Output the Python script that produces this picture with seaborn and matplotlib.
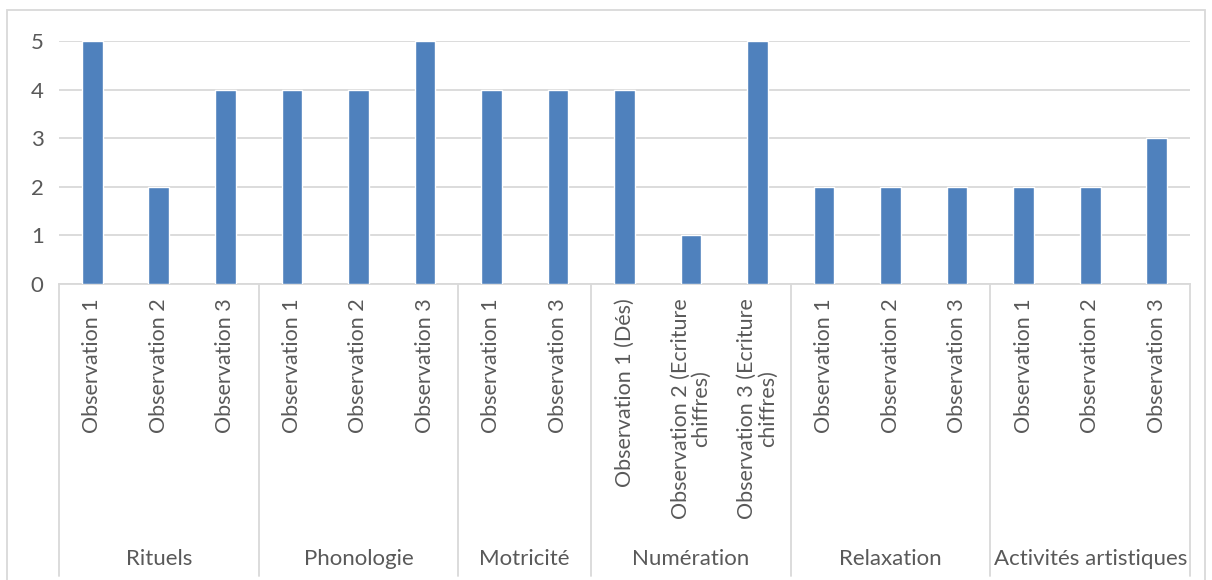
import matplotlib
matplotlib.use('Agg')
import matplotlib.pyplot as plt
import matplotlib.transforms as mtransforms
from matplotlib.patches import Rectangle
import pandas as pd
import seaborn as sns

# Données du graphique
groupes = ['Rituels', 'Phonologie', 'Motricité', 'Numération', 'Relaxation', 'Activités artistiques']
observations = [
    ['Observation 1', 'Observation 2', 'Observation 3'],
    ['Observation 1', 'Observation 2', 'Observation 3'],
    ['Observation 1', 'Observation 3'],
    ['Observation 1 (Dés)', 'Observation 2 (Ecriture\nchiffres)', 'Observation 3 (Ecriture\nchiffres)'],
    ['Observation 1', 'Observation 2', 'Observation 3'],
    ['Observation 1', 'Observation 2', 'Observation 3'],
]
valeurs = [
    [5, 2, 4],
    [4, 4, 5],
    [4, 4],
    [4, 1, 5],
    [2, 2, 2],
    [2, 2, 3],
]

rows = []
for g, obs, vals in zip(groupes, observations, valeurs):
    for o, v in zip(obs, vals):
        rows.append({'cle': g + ' | ' + o, 'groupe': g, 'obs': o, 'valeur': v})
df = pd.DataFrame(rows)

sns.set_style('white')
plt.rcParams['font.family'] = ['Lato', 'DejaVu Sans']

W, H = 1212, 580
fig = plt.figure(figsize=(W / 100, H / 100), dpi=100)
ax = fig.add_axes([59 / W, 1 - 284 / H, (1190 - 59) / W, (284 - 41) / H])

grid_col = '#d9d9d9'
text_col = '#595959'

sns.barplot(data=df, x='cle', y='valeur', color='#4f81bd', width=0.31,
            saturation=1, ax=ax, zorder=3)

ax.set_ylim(0, 5)
ax.set_xlim(-0.5, len(df) - 0.5)
ax.set_yticks(range(0, 6))
ax.yaxis.grid(True, color=grid_col, linewidth=1.3, zorder=0)
ax.set_axisbelow(True)
for s in ['top', 'right', 'left']:
    ax.spines[s].set_visible(False)
ax.spines['bottom'].set_color(grid_col)
ax.spines['bottom'].set_linewidth(1.3)
ax.set_xlabel('')
ax.set_ylabel('')

ax.set_xticks(range(len(df)))
ax.set_xticklabels(df['obs'], rotation=90, va='top', ha='center',
                   multialignment='center', fontsize=15.5, color=text_col,
                   linespacing=1.05)
ax.tick_params(axis='x', length=0, pad=10)
ax.tick_params(axis='y', length=0, pad=11, labelsize=16, labelcolor=text_col)

# Axe des catégories à deux niveaux
trans = mtransforms.blended_transform_factory(ax.transData, ax.transAxes)
bornes = [-0.5]
pos = -0.5
for vals in valeurs:
    pos += len(vals)
    bornes.append(pos)
for b in bornes:
    ax.plot([b, b], [0, -1.2], color=grid_col, linewidth=1.3,
            transform=trans, clip_on=False)
for i, g in enumerate(groupes):
    centre = (bornes[i] + bornes[i + 1]) / 2
    ax.text(centre, -1.13, g, transform=trans, ha='center', va='center',
            fontsize=16, color=text_col)

# Cadre extérieur
fig.patches.append(Rectangle((7 / W, -0.02), (1205 - 7) / W, 1.02 - 10 / H,
                             transform=fig.transFigure, fill=False,
                             edgecolor=grid_col, linewidth=1.3))

fig.savefig('out.png', dpi=100)
